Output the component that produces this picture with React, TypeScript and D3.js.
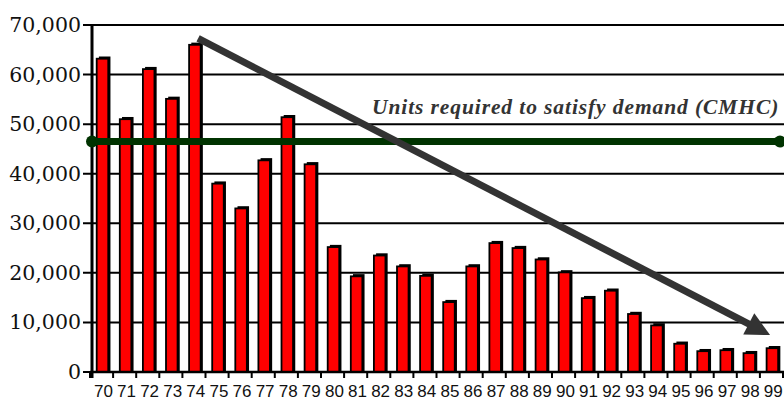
import React from "react";
import * as d3 from "d3";

const years = ["70","71","72","73","74","75","76","77","78","79","80","81","82","83","84","85","86","87","88","89","90","91","92","93","94","95","96","97","98","99"];
const starts = [63200,51000,61100,55100,66000,38000,33000,42700,51400,41900,25200,19300,23500,21300,19400,14100,21300,26000,25000,22700,20100,14900,16400,11700,9400,5700,4200,4400,3800,4800];
const yTicks = [0,10000,20000,30000,40000,50000,60000,70000];
const demand = 46500;
const demandLabel = "Units required to satisfy demand (CMHC)";
// trend arrow endpoints in (category index, value) space
const arrowFrom = [4.68, 67300];
const arrowTo = [29.44, 7460];

export default function App() {
  const W = 784, H = 397;
  const left = 90, right = 783, top = 25, bottom = 372;
  const x = d3.scaleBand<string>().domain(years).range([left, right]).padding(0);
  const xi = d3.scaleLinear().domain([0, years.length]).range([left, right]);
  const y = d3.scaleLinear().domain([0, 70000]).range([bottom, top]);
  const bw = x.bandwidth();
  const fmt = d3.format(",");

  const ax = xi(arrowFrom[0]), ay = y(arrowFrom[1]);
  const bx = xi(arrowTo[0]), by = y(arrowTo[1]);
  const dx = bx - ax, dy = by - ay, len = Math.hypot(dx, dy);
  const ux = dx / len, uy = dy / len, px = -uy, py = ux;
  const headL = 24, headW = 12;
  const baseX = bx - ux * headL, baseY = by - uy * headL;
  const head = [[bx, by], [baseX + px * headW, baseY + py * headW], [baseX - px * headW, baseY - py * headW]];

  return (
    <svg width={W} height={H} style={{ position: "absolute", left: 0, top: 0, background: "#fff" }}>
      {/* gridlines */}
      {yTicks.map(t => (
        <line key={"g" + t} x1={83} x2={W} y1={y(t)} y2={y(t)} stroke="#000" strokeWidth={2} />
      ))}
      {/* y labels */}
      {yTicks.map(t => (
        <text key={"l" + t} x={81} y={y(t) + 7} textAnchor="end" fontFamily="DejaVu Serif" fontSize={20.5} fill="#111">{fmt(t)}</text>
      ))}
      {/* bars */}
      {years.map((yr, i) => {
        const bx0 = (x(yr) as number) + bw * 0.29;
        const w = bw * 0.5;
        const yt = y(starts[i]);
        return (
          <g key={yr}>
            <rect x={bx0 + 2.2} y={yt - 2.2} width={w} height={bottom - yt + 2.2} fill="#000" />
            <rect x={bx0} y={yt} width={w} height={bottom - yt} fill="#ff0000" stroke="#000" strokeWidth={1.8} />
          </g>
        );
      })}
      {/* axes */}
      <line x1={92} x2={92} y1={top - 1} y2={bottom + 6} stroke="#000" strokeWidth={3} />
      <line x1={left} x2={W} y1={bottom} y2={bottom} stroke="#000" strokeWidth={2.5} />
      {years.map(yr => (
        <line key={"t" + yr} x1={x(yr) as number} x2={x(yr) as number} y1={bottom} y2={bottom + 6} stroke="#000" strokeWidth={2} />
      ))}
      <line x1={right} x2={right} y1={bottom} y2={bottom + 6} stroke="#000" strokeWidth={2} />
      {years.map(yr => (
        <text key={"x" + yr} x={(x(yr) as number) + bw * 0.58} y={397} textAnchor="middle" fontFamily="Liberation Sans" fontSize={17} fill="#111">{yr}</text>
      ))}
      {/* demand line */}
      <line x1={92} x2={780} y1={y(demand)} y2={y(demand)} stroke="#003300" strokeWidth={7} />
      <circle cx={92} cy={y(demand)} r={6} fill="#003300" />
      <circle cx={780} cy={y(demand)} r={6} fill="#003300" />
      <text x={372} y={113.5} textAnchor="start" fontFamily="Liberation Serif" fontWeight="bold" fontStyle="italic" fontSize={21.5} letterSpacing={0.9} fill="#333">{demandLabel}</text>
      {/* trend arrow */}
      <line x1={ax} y1={ay} x2={baseX + ux * 2} y2={baseY + uy * 2} stroke="#333" strokeWidth={7} />
      <polygon points={head.map(p => p.join(",")).join(" ")} fill="#333" />
    </svg>
  );
}
